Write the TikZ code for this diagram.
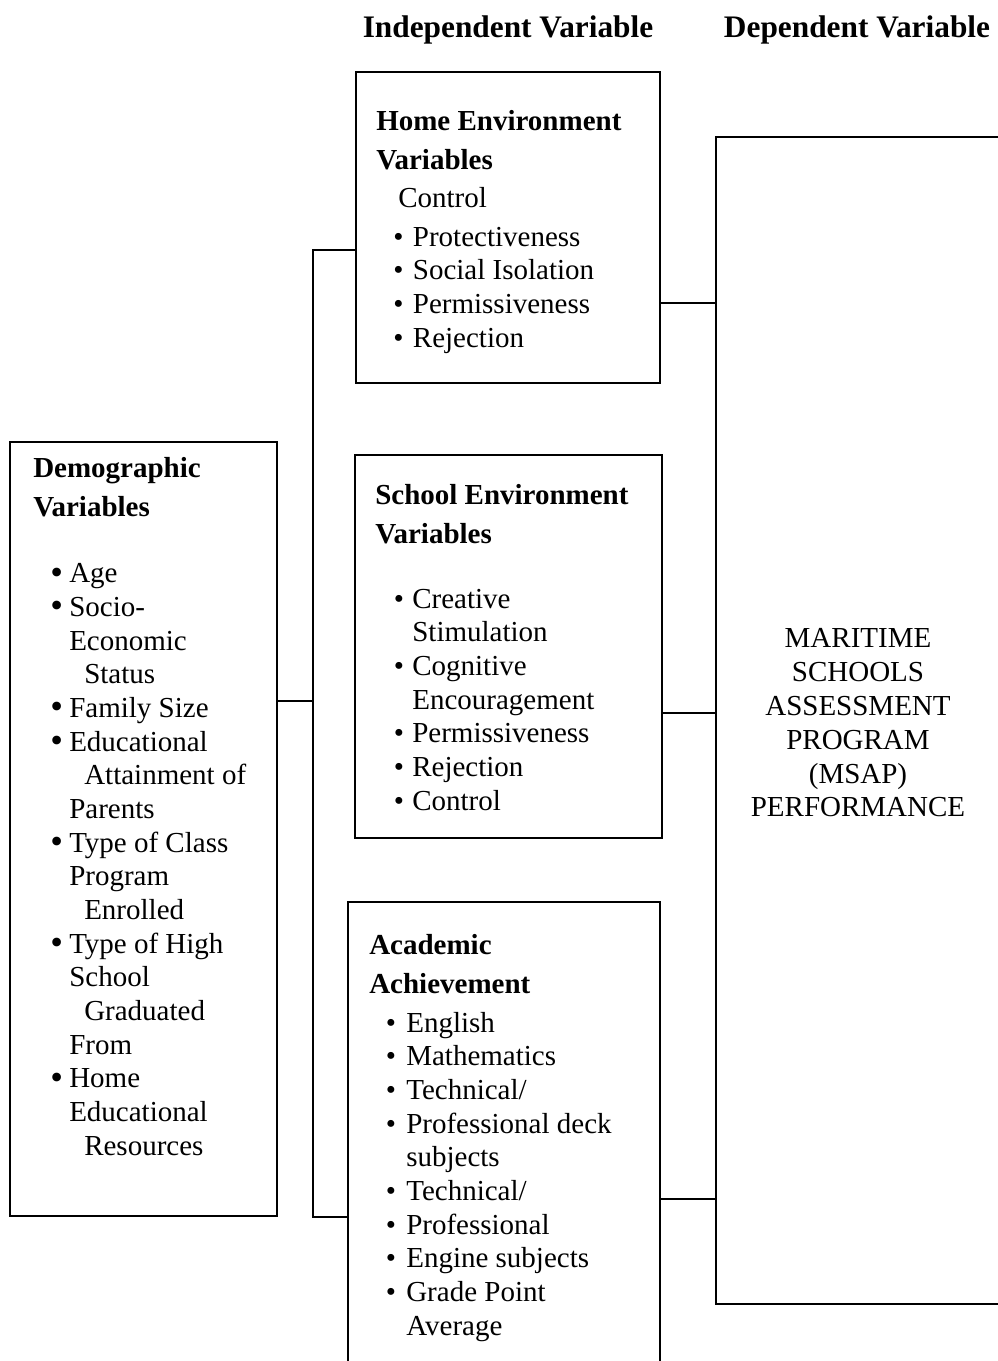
\documentclass[tikz,border=0pt]{standalone}
\usepackage{fontspec}
\setmainfont{Liberation Serif}
\usetikzlibrary{fit}

\newcommand{\bul}[2]{\hspace*{#1}\makebox[#2][l]{\textbullet}}
\newcommand{\bigbul}[2]{\hspace*{#1}\makebox[#2][l]{\raisebox{-1.2pt}{\scalebox{1.25}{\textbullet}}}}

\begin{document}
\begin{tikzpicture}[x=0.75pt,y=0.75pt,yscale=-1,xscale=1,
  box/.style={draw,line width=1.4pt,inner sep=0pt},
  txt/.style={anchor=base west,inner sep=0pt,align=left,
    font=\fontsize{21.75}{25.25}\selectfont},
  head/.style={anchor=base,inner sep=0pt,font=\fontsize{23.5}{28}\selectfont\bfseries},
  link/.style={line width=1.4pt}]
\useasboundingbox (0,0) rectangle (997,1361);

%Headers
\node[head] (hind) at (508,37) {Independent Variable};
\node[head] (hdep) at (857,37) {Dependent Variable};

%Shape: Rectangle [home]
\node[box,fit={(356,72) (660,383)}] (home) {};
%Shape: Rectangle [school]
\node[box,fit={(355,455) (662,838)}] (school) {};
%Shape: Rectangle [academic] -- runs off the bottom edge
\node[box,fit={(348,902) (660,1380)}] (acad) {};
%Shape: Rectangle [demographic]
\node[box,fit={(10,442) (277,1216)}] (demo) {};
%Shape: Rectangle [dependent] -- runs off the right edge
\node[box,fit={(716,137) (1003,1304)}] (dep) {};
\node[inner sep=0pt,align=center,font=\fontsize{21.75}{25.35}\selectfont]
  (tdep) at (858,723) {MARITIME\\SCHOOLS\\ASSESSMENT\\PROGRAM\\(MSAP)\\PERFORMANCE};

%Text blocks (placed by the baseline of their last line)
\node[txt] (thome) at (376,347) {\textbf{Home Environment}\\[4pt]
  \textbf{Variables}\\[3.25pt]
  \hspace*{16.5pt}Control\\[4pt]
  \bul{12.9pt}{14.6pt}Protectiveness\\
  \bul{12.9pt}{14.6pt}Social Isolation\\
  \bul{12.9pt}{14.6pt}Permissiveness\\
  \bul{12.9pt}{14.6pt}Rejection};

\node[txt] (tschool) at (375,810) {\textbf{School Environment}\\[4pt]
  \textbf{Variables}\\[23.5pt]
  \bul{13.9pt}{13.9pt}Creative\\
  \hspace*{27.8pt}Stimulation\\
  \bul{13.9pt}{13.9pt}Cognitive\\
  \hspace*{27.8pt}Encouragement\\
  \bul{13.9pt}{13.9pt}Permissiveness\\
  \bul{13.9pt}{13.9pt}Rejection\\
  \bul{13.9pt}{13.9pt}Control};

\node[txt] (tacad) at (369,1335) {\textbf{Academic}\\[4pt]
  \textbf{Achievement}\\[4pt]
  \bul{12.4pt}{15.4pt}English\\
  \bul{12.4pt}{15.4pt}Mathematics\\
  \bul{12.4pt}{15.4pt}Technical/\\
  \bul{12.4pt}{15.4pt}Professional deck\\
  \hspace*{27.8pt}subjects\\
  \bul{12.4pt}{15.4pt}Technical/\\
  \bul{12.4pt}{15.4pt}Professional\\
  \bul{12.4pt}{15.4pt}Engine subjects\\
  \bul{12.4pt}{15.4pt}Grade Point\\
  \hspace*{27.8pt}Average};

\node[txt] (tdemo) at (33,1155) {\textbf{Demographic}\\[4pt]
  \textbf{Variables}\\[24.2pt]
  \bigbul{12.75pt}{14.25pt}Age\\
  \bigbul{12.75pt}{14.25pt}Socio-\\
  \hspace*{27pt}Economic\\
  \hspace*{38.25pt}Status\\
  \bigbul{12.75pt}{14.25pt}Family Size\\
  \bigbul{12.75pt}{14.25pt}Educational\\
  \hspace*{38.25pt}Attainment of\\
  \hspace*{27pt}Parents\\
  \bigbul{12.75pt}{14.25pt}Type of Class\\
  \hspace*{27pt}Program\\
  \hspace*{38.25pt}Enrolled\\
  \bigbul{12.75pt}{14.25pt}Type of High\\
  \hspace*{27pt}School\\
  \hspace*{38.25pt}Graduated\\
  \hspace*{27pt}From\\
  \bigbul{12.75pt}{14.25pt}Home\\
  \hspace*{27pt}Educational\\
  \hspace*{38.25pt}Resources};

%Connector points
\coordinate (busT) at (313,250);
\coordinate (busM) at (313,701);
\coordinate (busB) at (313,1217);
\coordinate (rH) at (688,303);
\coordinate (rS) at (688,713);
\coordinate (rA) at (688,1199);

%Straight Lines [left bus]
\draw[link] (home.west |- busT) -- (busT) -- (busB) -- (acad.west |- busB);
\draw[link] (demo.east |- busM) -- (busM);
%Straight Lines [to dependent]
\draw[link] (home.east |- rH) -- (dep.west |- rH);
\draw[link] (school.east |- rS) -- (dep.west |- rS);
\draw[link] (acad.east |- rA) -- (dep.west |- rA);

\end{tikzpicture}
\end{document}
